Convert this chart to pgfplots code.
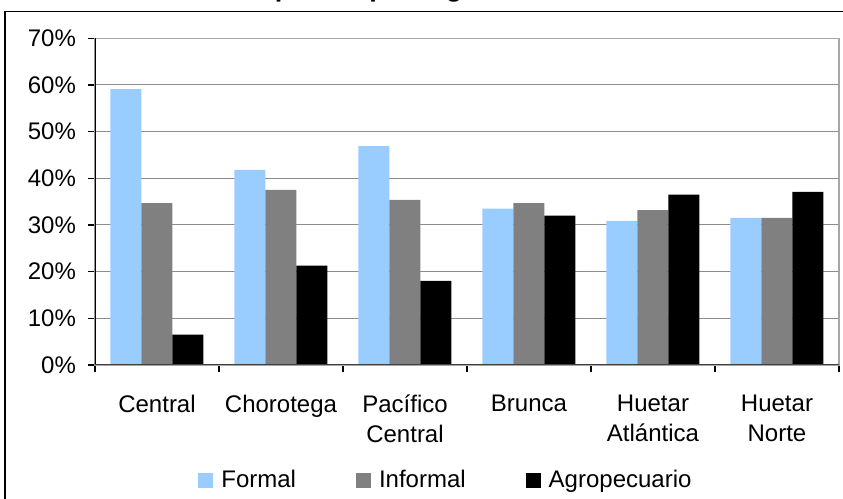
\documentclass[border=0pt]{standalone}
\usepackage{fontspec}
\setmainfont{Liberation Sans}
\usepackage{pgfplots}
\pgfplotsset{compat=1.18}

\definecolor{formal}{HTML}{99CCFF}
\definecolor{informal}{HTML}{808080}
\definecolor{gridgray}{HTML}{8C8C8C}
\definecolor{bordergray}{HTML}{A6A6A6}
\definecolor{axisdark}{HTML}{404040}

\pgfplotsset{
  sqlegend/.style={legend image code/.code={%
    \path[##1,draw=none] (0pt,-3.75pt) rectangle (7.5pt,3.75pt);
    \path (9.5pt,0pt);}},
}

\begin{document}
\begin{tikzpicture}[x=0.5pt,y=0.5pt]
\path[use as bounding box, clip] (0,0) rectangle (843,499);
% outer chart frame
\draw[line width=0.85pt] (5,-20) rectangle (870,487.5);
% title
\node[anchor=base west, inner sep=0pt, font=\bfseries\fontsize{13.5}{16}\selectfont] at (192,502.6) {Participación por región};
\begin{axis}[
  at={(47.5pt,67pt)}, anchor=south west,
  scale only axis, width=372pt, height=163.35pt,
  ybar=0pt, bar width=15.5pt,
  xmin=-0.5, xmax=5.5, ymin=0, ymax=70,
  xtick={0,...,5},
  xticklabels={Central, Chorotega, {Pacífico\\Central}, Brunca, {Huetar\\Atlántica}, {Huetar\\Norte}},
  minor xtick={-0.5,0.5,...,5.5},
  major x tick style={draw=none},
  xtick pos=bottom, ytick pos=left,
  ytick={0,10,...,70},
  yticklabel={\pgfmathprintnumber{\tick}\%},
  /pgf/number format/assume math mode=true,
  tick align=outside,
  major tick length=3.5pt, minor tick length=3.5pt,
  tick style={black, line width=0.6pt},
  ymajorgrids, grid style={gridgray, line width=0.5pt},
  axis line style={bordergray, line width=0.6pt},
  ticklabel style={font=\fontsize{12}{15}\selectfont},
  xticklabel style={align=center, yshift=-8pt},
  yticklabel style={xshift=-2.5pt},
  legend columns=3,
  legend style={draw=none, fill=none, inner sep=0pt,
    at={(axis description cs:0.1384,-0.3535)}, anchor=west,
    font=\fontsize{12}{14}\selectfont,
    /tikz/every even column/.append style={column sep=28pt}},
]
\addplot[fill=formal, draw=none, sqlegend] coordinates {(0,59.1) (1,41.8) (2,46.9) (3,33.5) (4,30.9) (5,31.5)};
\addplot[fill=informal, draw=none, sqlegend] coordinates {(0,34.7) (1,37.5) (2,35.4) (3,34.7) (4,33.2) (5,31.5)};
\addplot[fill=black, draw=none, sqlegend] coordinates {(0,6.5) (1,21.3) (2,18.0) (3,32.0) (4,36.5) (5,37.1)};
\legend{Formal, Informal, Agropecuario}
\draw[black, line width=0.65pt] (rel axis cs:0,0) -- (rel axis cs:0,1);
\draw[axisdark, line width=0.75pt] (rel axis cs:0,0) -- (rel axis cs:1,0);
\end{axis}
\end{tikzpicture}
\end{document}
